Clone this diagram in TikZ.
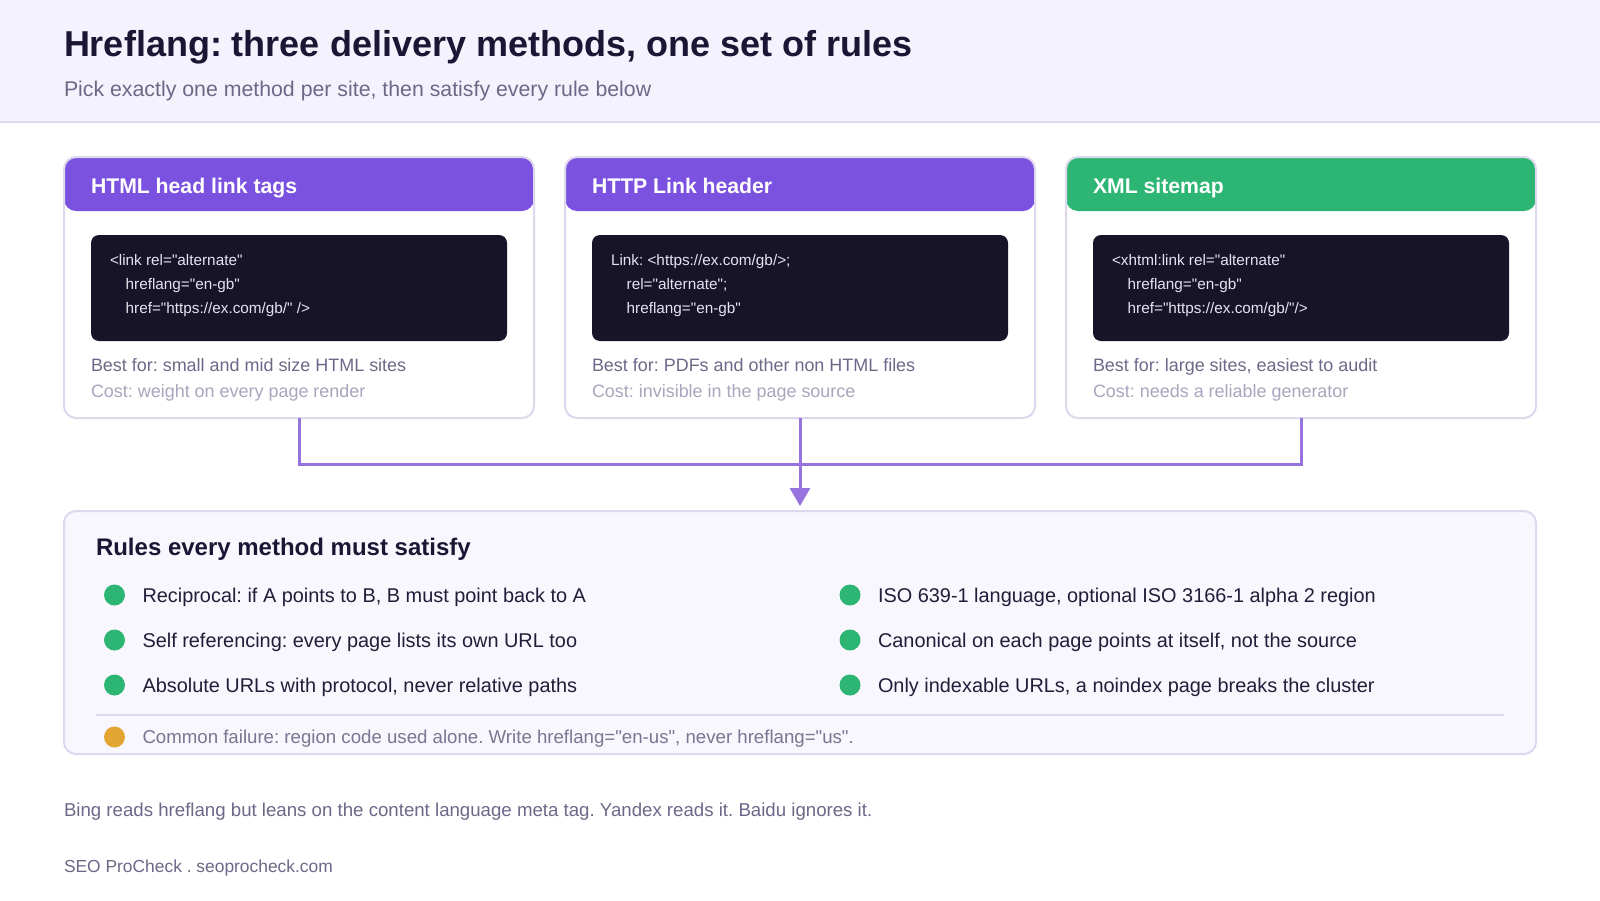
\documentclass[tikz,border=0pt]{standalone}
\usepackage{fontspec}
\setmainfont{Liberation Sans}[Ligatures=TeXOff]
\usetikzlibrary{arrows.meta}
\frenchspacing
\definecolor{bandbg}{HTML}{F4F2FD}
\definecolor{bandline}{HTML}{DDD9EE}
\definecolor{ink}{HTML}{1B1634}
\definecolor{muted}{HTML}{6E6888}
\definecolor{faint}{HTML}{A9A5BD}
\definecolor{hpurple}{HTML}{7B52DF}
\definecolor{hgreen}{HTML}{2DB673}
\definecolor{cardline}{HTML}{DDD8EE}
\definecolor{codebg}{HTML}{17142A}
\definecolor{codetxt}{HTML}{E6E3F0}
\definecolor{conn}{HTML}{9673DD}
\definecolor{rulesbg}{HTML}{F8F7FE}
\definecolor{dotgreen}{HTML}{2DB673}
\definecolor{dotorange}{HTML}{E2A532}
\definecolor{ruletxt}{HTML}{221D38}
\definecolor{failtxt}{HTML}{7A7590}
\tikzset{
  txt/.style={anchor=base west, inner sep=0pt, outer sep=0pt},
  card/.style={draw=cardline, line width=2pt, rounded corners=12pt, fill=white,
    minimum width=470pt, minimum height=261pt, inner sep=0pt, outer sep=0pt, anchor=north west},
  cardhead/.style={path picture={\fill[#1] (path picture bounding box.north west)
      rectangle ([yshift=-54pt]path picture bounding box.north east);}},
  codebox/.style={fill=codebg, rounded corners=8pt, minimum width=416pt,
    minimum height=106pt, inner sep=0pt, outer sep=0pt, anchor=north west},
  headtxt/.style={txt, text=white, font=\fontsize{21.2}{25}\selectfont\bfseries},
  codetx/.style={txt, text=codetxt, font=\fontsize{15.3}{18}\selectfont},
  bestfor/.style={txt, text=muted, font=\fontsize{17.95}{21}\selectfont},
  costtx/.style={txt, text=faint, font=\fontsize{17.95}{21}\selectfont},
  ruletx/.style={txt, text=ruletxt, font=\fontsize{19.9}{24}\selectfont},
  gdot/.style={circle, fill=dotgreen, minimum size=21pt, inner sep=0pt},
  odot/.style={circle, fill=dotorange, minimum size=21pt, inner sep=0pt},
  connline/.style={draw=conn, line width=3pt},
}
\begin{document}
\begin{tikzpicture}[x=1pt,y=-1pt]
\useasboundingbox (0,0) rectangle (1600,900);
\fill[white] (0,0) rectangle (1600,900);
% header band
\fill[bandbg] (0,0) rectangle (1600,121);
\draw[bandline, line width=2pt] (0,122) -- (1600,122);
\node[txt, text=ink, font=\fontsize{36}{42}\selectfont\bfseries] (title) at (64,56.5)
  {Hreflang: three delivery methods, one set of rules};
\node[txt, text=muted, font=\fontsize{21.3}{25}\selectfont] (subtitle) at (64,96)
  {Pick exactly one method per site, then satisfy every rule below};

% cards
\node[card, cardhead=hpurple] (c1) at (64,157) {};
\node[card, cardhead=hpurple] (c2) at (565,157) {};
\node[card, cardhead=hgreen] (c3) at (1066,157) {};

\node[headtxt] (h1) at (91,193.5) {HTML head link tags};
\node[headtxt] (h2) at (592,193.5) {HTTP Link header};
\node[headtxt] (h3) at (1093,193.5) {XML sitemap};

\node[codebox] (b1) at (91,235) {};
\node[codebox] (b2) at (592,235) {};
\node[codebox] (b3) at (1093,235) {};

\node[codetx] (k11) at (110,265) {<link rel="alternate"};
\node[codetx] (k12) at (125.7,289) {hreflang="en-gb"};
\node[codetx] (k13) at (125.7,313) {href="https://ex.com/gb/" />};

\node[codetx] (k21) at (611,265) {Link: <https://ex.com/gb/>;};
\node[codetx] (k22) at (626.7,289) {rel="alternate";};
\node[codetx] (k23) at (626.7,313) {hreflang="en-gb"};

\node[codetx] (k31) at (1112,265) {<xhtml:link rel="alternate"};
\node[codetx] (k32) at (1127.7,289) {hreflang="en-gb"};
\node[codetx] (k33) at (1127.7,313) {href="https://ex.com/gb/"/>};

\node[bestfor] (bf1) at (91,371) {Best for: small and mid size HTML sites};
\node[costtx] (cs1) at (91,397) {Cost: weight on every page render};
\node[bestfor] (bf2) at (592,371) {Best for: PDFs and other non HTML files};
\node[costtx] (cs2) at (592,397) {Cost: invisible in the page source};
\node[bestfor] (bf3) at (1093,371) {Best for: large sites, easiest to audit};
\node[costtx] (cs3) at (1093,397) {Cost: needs a reliable generator};

% rules box
\node[draw=cardline, line width=2pt, rounded corners=12pt, fill=rulesbg,
  minimum width=1472pt, minimum height=243pt, inner sep=0pt, outer sep=0pt, anchor=north west]
  (rules) at (64,511) {};

% connectors
\coordinate (j) at (c2.south |- 0,464);
\draw[connline] (c1.south) |- (j);
\draw[connline] (c3.south) |- (j);
\draw[connline] (c2.south) -- (j);
\draw[connline, -{Triangle[width=20pt,length=18pt]}, shorten >=5pt] (j) -- (rules.north);

\node[txt, text=ink, font=\fontsize{24}{28}\selectfont\bfseries] (rt) at (96,555.5)
  {Rules every method must satisfy};

\node[gdot] (d1) at (114.5,595) {};
\node[gdot] (d2) at (114.5,640) {};
\node[gdot] (d3) at (114.5,685) {};
\node[ruletx] (r1) at (142.5,602.5) {Reciprocal: if A points to B, B must point back to A};
\node[ruletx] (r2) at (142.5,647.5) {Self referencing: every page lists its own URL too};
\node[ruletx] (r3) at (142.5,692.5) {Absolute URLs with protocol, never relative paths};

\node[gdot] (d4) at (850,595) {};
\node[gdot] (d5) at (850,640) {};
\node[gdot] (d6) at (850,685) {};
\node[ruletx] (r4) at (878,602.5) {ISO 639-1 language, optional ISO 3166-1 alpha 2 region};
\node[ruletx] (r5) at (878,647.5) {Canonical on each page points at itself, not the source};
\node[ruletx] (r6) at (878,692.5) {Only indexable URLs, a noindex page breaks the cluster};

\draw[cardline, line width=2pt] (96,715) -- (1504,715);

\node[odot] (d7) at (114.5,737) {};
\node[txt, text=failtxt, font=\fontsize{18.65}{22}\selectfont] (fail) at (142.5,743.5)
  {Common failure: region code used alone. Write hreflang="en-us", never hreflang="us".};

% footer
\node[txt, text=muted, font=\fontsize{18.65}{22}\selectfont] (note) at (64,816.5)
  {Bing reads hreflang but leans on the content language meta tag. Yandex reads it. Baidu ignores it.};
\node[txt, text=muted, font=\fontsize{17.4}{21}\selectfont] (brand) at (64,872)
  {SEO ProCheck . seoprocheck.com};
\end{tikzpicture}
\end{document}
